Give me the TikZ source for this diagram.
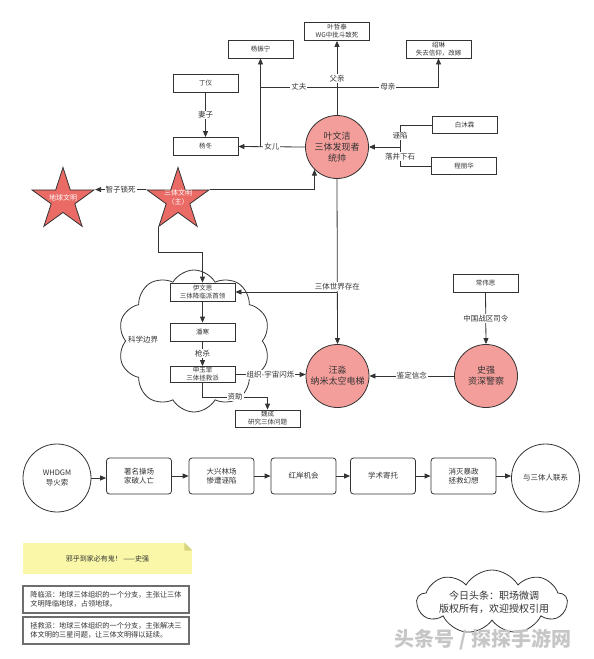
\documentclass[tikz,border=0pt]{standalone}
\usepackage{fontspec}
\setmainfont{Noto Sans CJK SC}
\usetikzlibrary{arrows.meta,shapes.geometric,shapes.symbols,calc}
\definecolor{ln}{HTML}{333333}
\definecolor{pinkc}{HTML}{F49E9B}
\definecolor{starc}{HTML}{EA6B66}
\definecolor{notey}{HTML}{FAF8A8}
\definecolor{notef}{HTML}{D6D47C}
\definecolor{bordg}{HTML}{6E6E6E}
\begin{document}
\begin{tikzpicture}[x=1pt,y=-1pt,line width=0.8pt,
  box/.style={draw=ln,fill=white,minimum width=65pt,minimum height=18pt,inner sep=1pt,align=center,text=ln,font=\fontsize{6.5}{8}\selectfont},
  pc/.style={circle,draw=ln,fill=pinkc,minimum size=63pt,inner sep=0pt,align=center,text=ln,font=\fontsize{9}{11}\selectfont},
  wcirc/.style={circle,draw=ln,fill=white,minimum size=68pt,inner sep=0pt,align=center,text=ln,font=\fontsize{7.5}{9.5}\selectfont},
  rbox/.style={draw=ln,fill=white,rounded corners=3pt,minimum width=65pt,minimum height=36pt,inner sep=1pt,align=center,text=ln,font=\fontsize{7.5}{9.5}\selectfont},
  starst/.style={star,star points=5,star point ratio=2.618,minimum size=65pt,inner sep=0pt,fill=starc,draw=ln},
  startxt/.style={text=white,align=center,inner sep=0pt,font=\fontsize{7}{9}\selectfont},
  arr/.style={draw=ln,-{Triangle[length=6pt,width=5pt]}},
  ln/.style={draw=ln},
  lbl/.style={fill=white,inner sep=1pt,text=ln,font=\fontsize{7.5}{9}\selectfont},
  cloudst/.style={cloud,draw=ln,fill=white,cloud puffs=10,cloud puff arc=120,inner sep=0pt},
  notebox/.style={draw=bordg,line width=1.3pt,fill=white,minimum width=166pt,minimum height=27pt,inner sep=3pt,align=left,text=ln,font=\fontsize{7.2}{9}\selectfont}
]
\useasboundingbox (0,0) rectangle (594,659);

% clouds
\node[cloudst,minimum width=152pt,minimum height=142pt] (cl) at (194,341) {};
\node[text=ln,font=\fontsize{7.5}{9}\selectfont] (kxbj) at (143,340) {科学边界};
\node[cloudst,cloud puffs=9,minimum width=150pt,minimum height=64pt] (cl2) at (492,602) {};

% top family
\node[box] (yzt) at (337,31.5) {叶哲泰\\WG中批斗致死};
\node[box] (yzn) at (260.5,49) {杨振宁};
\node[box] (sl) at (438.5,49) {绍琳\\失去信仰，改嫁};
\node[box] (dy) at (205.5,83.5) {丁仪};
\node[box] (yd) at (205.5,146.5) {杨冬};
\node[pc] (ye) at (337,147) {叶文洁\\三体发现者\\统帅};
\node[box,minimum height=17pt] (bml) at (464.5,125) {白沐霖};
\node[box,minimum height=17pt] (clh) at (464,166) {程丽华};

\coordinate (topj) at (337,87);
\coordinate (jn) at (400,147);
\draw[arr] (ye.north) -- (yzt.south) node[lbl,pos=0.49] {父亲};
\draw[arr] (topj) -| (yzn.south) node[lbl,pos=0.25] {丈夫};
\draw[arr] (topj) -| (sl.south) node[lbl,pos=0.25] {母亲};
\draw[arr] (ye.west) -- (yd.east) node[lbl,midway] {女儿};
\draw[ln] (yzn.south |- yd.east) -- (yzn.south |- topj);
\draw[arr] (dy.south) -- (yd.north) node[lbl,midway] {妻子};
\draw[ln] (bml.west) -| (jn) node[lbl,pos=0.75] {诬陷};
\draw[ln] (clh.west) -| (jn) node[lbl,pos=0.75] {落井下石};
\draw[arr] (jn) -- (ye.east);

% stars
\node[starst] (s3) at (178,200) {};
\node[startxt] (s3t) at (178,197.5) {三体文明\\（主）};
\node[starst] (sd) at (63,200) {};
\node[startxt] (sdt) at (63,198) {地球文明};
\draw[arr] (s3.outer point 2) -- (sd.outer point 5) node[lbl,midway] {智子锁死};
\draw[arr] (s3.outer point 5) -| (ye.south west);

% cloud group
\node[box] (yws) at (202.5,292) {伊文思\\三体降临派首领};
\node[box] (ph) at (202.5,332) {潘寒};
\node[box,minimum height=16pt] (syf) at (202.5,374.5) {申玉菲\\三体拯救派};
\node[box,minimum height=17pt] (wc) at (267.5,418.5) {魏成\\研究三体问题};
\draw[arr] (s3.outer point 3) -- ++(0,25) -| (yws.north);
\draw[arr] (yws.south) -- (ph.north);
\draw[arr] (ph.south) -- (syf.north) node[lbl,midway] {枪杀};
\draw[arr] (syf.south) -- ++(0,14) -| (wc.north) node[lbl,pos=0.25] {资助};

% right group
\node[pc] (wm) at (337.5,376) {汪淼\\纳米太空电梯};
\node[pc] (sq) at (486,376) {史强\\资深警察};
\node[box] (cws) at (485.5,283) {常伟思};
\draw[arr] (ye.south) -- (wm.north) node[lbl,pos=0.65] {三体世界存在};
\draw[arr] (ye.south |- yws.east) -- (yws.east);
\draw[arr] (syf.east) -- (syf.east -| wm.west) node[lbl,midway] {组织-宇宙闪烁};
\draw[arr] (cws.south) -- (sq.north) node[lbl,midway] {中国战区司令};
\draw[arr] (sq.west) -- (wm.east) node[lbl,midway] {鉴定信念};

% bottom row
\node[wcirc] (b0) at (57,478) {WHDGM\\导火索};
\node[rbox] (b1) at (139,476) {著名操场\\家破人亡};
\node[rbox] (b2) at (221.5,476) {大兴林场\\惨遭诬陷};
\node[rbox] (b3) at (303.5,476) {红岸机会};
\node[rbox] (b4) at (383,476) {学术寄托};
\node[rbox] (b5) at (463.5,476) {消灭暴政\\拯救幻想};
\node[wcirc] (b6) at (545.5,478) {与三体人联系};
\draw[arr] (b0.east) -- (b1.west |- b0.east);
\draw[arr] (b1.east) -- (b2.west);
\draw[arr] (b2.east) -- (b3.west);
\draw[arr] (b3.east) -- (b4.west);
\draw[arr] (b4.east) -- (b5.west);
\draw[arr] (b5.east) -- (b6.west |- b5.east);

% notes
\node[fill=notey,minimum width=169pt,minimum height=31pt,inner sep=0pt,text=ln,font=\fontsize{7}{9}\selectfont] (note) at (107.5,558.5) {邪乎到家必有鬼！ ——史强};
\fill[white] (note.north east) -- ++(-8,0) -- ++(8,8) -- cycle;
\fill[notef] ($(note.north east)+(-8,0)$) -- ++(0,8) -- ++(8,0) -- cycle;
\node[notebox] (jlp) at (106,599.5) {降临派：地球三体组织的一个分支，主张让三体\\文明降临地球，占领地球。};
\node[notebox] (zjp) at (106,630.5) {拯救派：地球三体组织的一个分支，主张解决三\\体文明的三星问题，让三体文明得以延续。};

\node[text=ln,align=center,font=\fontsize{10}{13}\selectfont] (tt) at (494,602) {今日头条：职场微调\\版权所有，欢迎授权引用};
\node[text=gray!45,font=\fontsize{20}{22}\selectfont\bfseries] (wm2) at (483,640) {头条号 / 探探手游网};
\end{tikzpicture}
\end{document}
